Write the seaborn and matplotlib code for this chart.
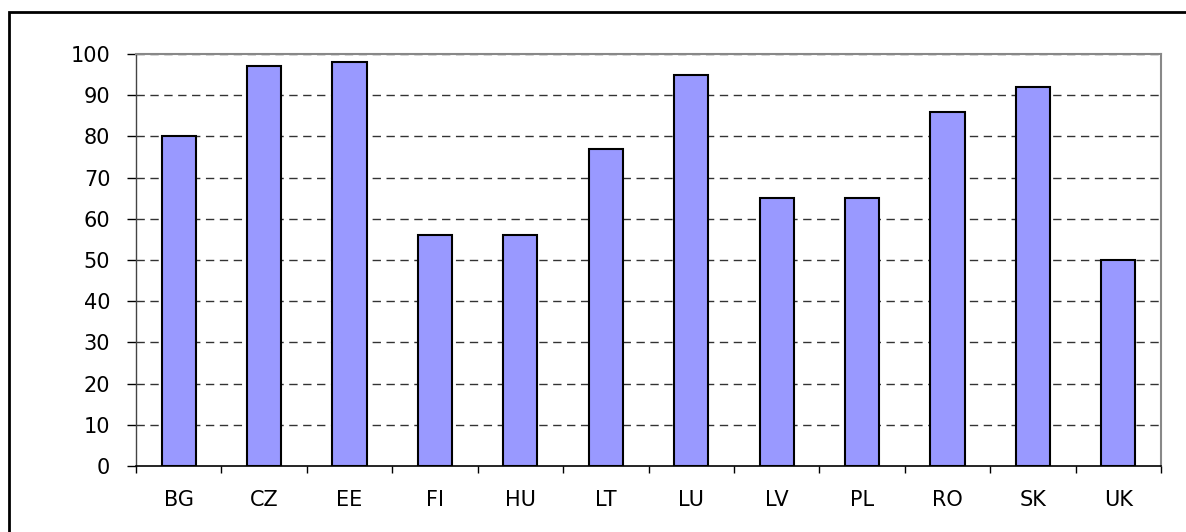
import pandas as pd
import matplotlib.pyplot as plt
import seaborn as sns
from matplotlib.patches import Rectangle

# Chart data
countries = ['BG', 'CZ', 'EE', 'FI', 'HU', 'LT', 'LU', 'LV', 'PL', 'RO', 'SK', 'UK']
values = [80, 97, 98, 56, 56, 77, 95, 65, 65, 86, 92, 50]
y_ticks = list(range(0, 101, 10))

df = pd.DataFrame({'country': countries, 'value': values})

sns.set_style('white')
# wide face, the reference labels are horizontally stretched Arial
plt.rcParams['font.family'] = ['DejaVu Sans']

fig = plt.figure(figsize=(11.86, 5.32), dpi=100)
ax = fig.add_axes([136 / 1186, (532 - 466) / 532, (1161 - 136) / 1186, (466 - 54) / 532])

sns.barplot(data=df, x='country', y='value', color='#9999FF', saturation=1,
            width=0.4, edgecolor='black', linewidth=1.5, ax=ax, zorder=3)

# Limits and ticks
ax.set_xlim(-0.5, len(countries) - 0.5)
ax.set_ylim(0, 100)
ax.set_yticks(y_ticks)
ax.set_xlabel('')
ax.set_ylabel('')

# Dashed gridlines
for v in y_ticks[1:]:
    ax.axhline(v, color='#333333', linestyle=(0, (6, 4)), linewidth=1, zorder=1)

# Category boundary ticks on x axis
ax.set_xticks([i - 0.5 for i in range(len(countries) + 1)], minor=True)
ax.tick_params(axis='x', which='minor', bottom=True, length=5, width=1,
               color='black', direction='out')
ax.tick_params(axis='x', which='major', bottom=True, length=0, pad=17,
               labelsize=15, labelcolor='black')
ax.tick_params(axis='y', left=True, length=6.5, width=1, color='black',
               direction='out', pad=12, labelsize=15, labelcolor='black')

# Spines
for side in ['top', 'right']:
    ax.spines[side].set_color('#888888')
    ax.spines[side].set_linewidth(1.5)
ax.spines['left'].set_color('#444444')
ax.spines['bottom'].set_color('black')
ax.spines['left'].set_linewidth(1)
ax.spines['bottom'].set_linewidth(1.2)

# Outer frame around the chart
fig.patches.append(Rectangle((9 / 1186, -0.1), 1.2, (532 - 12) / 532 + 0.1,
                             transform=fig.transFigure, fill=False,
                             edgecolor='black', linewidth=2))

plt.savefig('out.png', dpi=100)
